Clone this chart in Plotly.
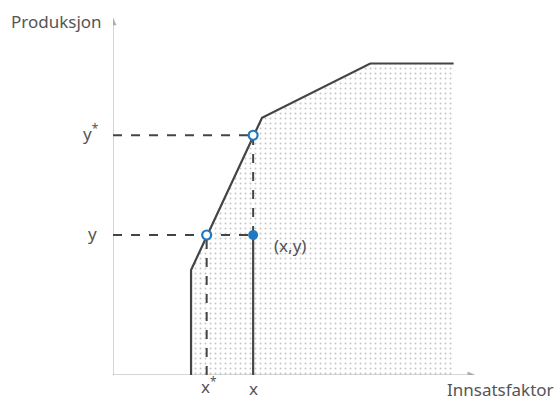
import plotly.graph_objects as go

# Data (arbitrary units, axes run 0..10)
frontier_x = [2.2, 2.2, 4.2, 7.25, 9.6]
frontier_y = [0.0, 3.0, 7.35, 8.9, 8.9]
x_star, y_val = 2.64, 4.0
x_val, y_star = 3.95, 6.85
axis_max = 10

gray = "#555555"
axis_gray = "#aaaaaa"
blue = "#1f78c1"
font = "Noto Sans"

fig = go.Figure()

# dotted production set
fig.add_trace(go.Scatter(
    x=frontier_x + [frontier_x[-1], frontier_x[0]],
    y=frontier_y + [0, 0],
    fill="toself", mode="none",
    fillcolor="rgba(255,255,255,1)",
    fillpattern=dict(shape=".", fgcolor="#8a8a8a", bgcolor="white", size=5, solidity=0.12),
    hoverinfo="skip", showlegend=False))

# axis lines
fig.add_trace(go.Scatter(x=[0, 0, axis_max], y=[axis_max, 0, 0], mode="lines",
                         line=dict(color=axis_gray, width=1), hoverinfo="skip", showlegend=False))

# frontier
fig.add_trace(go.Scatter(x=frontier_x, y=frontier_y, mode="lines",
                         line=dict(color="#444444", width=2.2), showlegend=False))

dash = dict(color="#444444", width=2, dash="dash")
# horizontal dashed lines
fig.add_trace(go.Scatter(x=[0, x_val], y=[y_val, y_val], mode="lines", line=dash, showlegend=False))
fig.add_trace(go.Scatter(x=[0, x_val], y=[y_star, y_star], mode="lines", line=dash, showlegend=False))
# vertical dashed lines
fig.add_trace(go.Scatter(x=[x_star, x_star], y=[0, y_val], mode="lines", line=dash, showlegend=False))
fig.add_trace(go.Scatter(x=[x_val, x_val], y=[y_val, y_star], mode="lines", line=dash, showlegend=False))
# solid vertical at x
fig.add_trace(go.Scatter(x=[x_val, x_val], y=[0, y_val], mode="lines",
                         line=dict(color="#444444", width=2.2), showlegend=False))

# points
fig.add_trace(go.Scatter(x=[x_star, x_val], y=[y_val, y_star], mode="markers",
                         marker=dict(size=9, color="white", line=dict(color=blue, width=2.2)),
                         showlegend=False))
fig.add_trace(go.Scatter(x=[x_val], y=[y_val], mode="markers",
                         marker=dict(size=10, color=blue), showlegend=False))

# axis arrowheads as pixel-sized shapes anchored at axis ends
shapes = [
    dict(type="path", xref="x", yref="y", xsizemode="pixel", ysizemode="pixel",
         xanchor=0, yanchor=axis_max, path="M -3 0 L 3 0 L 0 7 Z",
         fillcolor=axis_gray, line=dict(color=axis_gray, width=0.5), layer="above"),
    dict(type="path", xref="x", yref="y", xsizemode="pixel", ysizemode="pixel",
         xanchor=axis_max, yanchor=0, path="M 0 -3 L 0 3 L 7 0 Z",
         fillcolor=axis_gray, line=dict(color=axis_gray, width=0.5), layer="above"),
]

tf = dict(family=font, size=17, color=gray)
ann = [
    dict(x=0, y=axis_max, xref="x", yref="y", text="Produksjon", xanchor="right", yanchor="middle",
         xshift=-9, yshift=4, showarrow=False, font=tf),
    dict(x=axis_max, y=0, xref="x", yref="y", text="Innsatsfaktor", xanchor="left", yanchor="top",
         xshift=-23, yshift=-1, showarrow=False, font=tf),
    dict(x=0, y=y_star, xref="x", yref="y", text="y<sup>*</sup>", xanchor="right", yanchor="middle",
         xshift=-12, yshift=3, showarrow=False, font=tf),
    dict(x=0, y=y_val, xref="x", yref="y", text="y", xanchor="right", yanchor="middle",
         xshift=-14, yshift=2, showarrow=False, font=tf),
    dict(x=x_star, y=0, xref="x", yref="y", text="x<sup>*</sup>", xanchor="center", yanchor="top",
         xshift=2, yshift=4, showarrow=False, font=tf),
    dict(x=x_val, y=0, xref="x", yref="y", text="x", xanchor="center", yanchor="top",
         yshift=0, showarrow=False, font=tf),
    dict(x=x_val, y=y_val, xref="x", yref="y", text="(x,y)", xanchor="left", yanchor="middle",
         xshift=19, yshift=-10, showarrow=False, font=tf),
]

# 0..10 maps to px 113..468 horizontally and 375..25 vertically; ranges padded for arrowheads
fig.update_layout(
    width=556, height=399,
    margin=dict(l=113, r=74, t=11, b=24),
    paper_bgcolor="white", plot_bgcolor="white",
    xaxis=dict(range=[0, 10.4], showgrid=False, zeroline=False, showticklabels=False,
               showline=False, ticks=""),
    yaxis=dict(range=[0, 10.4], showgrid=False, zeroline=False, showticklabels=False,
               showline=False, ticks=""),
    annotations=ann,
    shapes=shapes,
)

fig.write_html("out.html", config={"displayModeBar": False},
               post_script="document.body.style.margin='0';document.body.style.overflow='hidden';")
